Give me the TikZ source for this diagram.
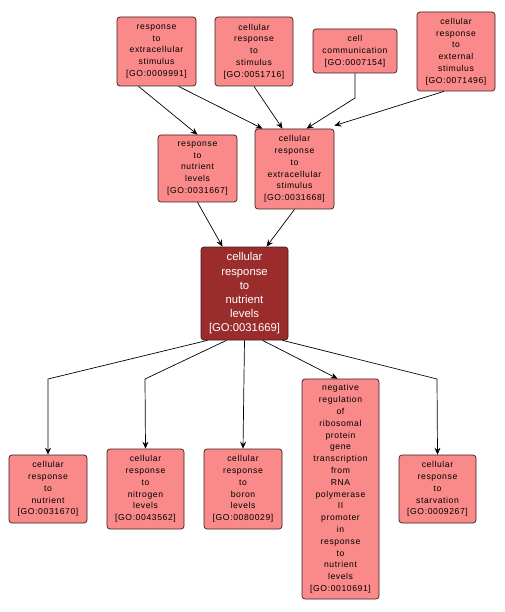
\documentclass[tikz,border=0pt]{standalone}
\usepackage{fontspec}
\setmainfont{Liberation Sans}
\newfontfamily\smallfnt[LetterSpace=7]{Liberation Sans}
\usetikzlibrary{arrows.meta}
\definecolor{salmon}{RGB}{250,137,137}
\definecolor{maincol}{RGB}{155,44,44}
\definecolor{edgecol}{RGB}{60,30,30}
\tikzset{
  gobox/.style={draw=edgecol, fill=salmon, rounded corners=3pt, align=center,
    inner sep=0pt, line width=0.7pt,
    font=\smallfnt\fontsize{8.6}{11.8}\selectfont},
  mainbox/.style={gobox, fill=maincol, text=white, font=\fontsize{11.3}{14.2}\selectfont},
  conn/.style={draw=black, line width=0.7pt, -{Stealth[length=7pt,width=6pt,inset=2.5pt]}}
}
\begin{document}
\begin{tikzpicture}[x=1pt,y=-1pt]
\useasboundingbox (0,0) rectangle (505,612);
\fill[white] (0,0) rectangle (505,612);
% top row
\node[gobox, minimum width=79pt, minimum height=69pt] (A) at (156.5,51.5) {response\\to\\extracellular\\stimulus\\{}[GO:0009991]};
\node[gobox, minimum width=78pt, minimum height=69pt] (B) at (254,51.5) {cellular\\response\\to\\stimulus\\{}[GO:0051716]};
\node[gobox, minimum width=84pt, minimum height=44pt] (C) at (355,51) {cell\\communication\\{}[GO:0007154]};
\node[gobox, minimum width=78pt, minimum height=79pt] (D) at (456,51.5) {cellular\\response\\to\\external\\stimulus\\{}[GO:0071496]};
% middle
\node[gobox, minimum width=79pt, minimum height=67pt] (E) at (197.5,168.5) {response\\to\\nutrient\\levels\\{}[GO:0031667]};
\node[gobox, minimum width=79pt, minimum height=80pt] (F) at (294.5,169) {cellular\\response\\to\\extracellular\\stimulus\\{}[GO:0031668]};
\node[mainbox, minimum width=87pt, minimum height=93pt] (G) at (244.5,293.5) {cellular\\response\\to\\nutrient\\levels\\{}[GO:0031669]};
% bottom
\node[gobox, minimum width=78pt, minimum height=68pt] (H) at (48,489) {cellular\\response\\to\\nutrient\\{}[GO:0031670]};
\node[gobox, minimum width=77pt, minimum height=80pt] (I) at (145.5,489) {cellular\\response\\to\\nitrogen\\levels\\{}[GO:0043562]};
\node[gobox, minimum width=78pt, minimum height=80pt] (J) at (243,489) {cellular\\response\\to\\boron\\levels\\{}[GO:0080029]};
\node[gobox, minimum width=77pt, minimum height=220pt] (K) at (340.5,489) {negative\\regulation\\of\\ribosomal\\protein\\gene\\transcription\\from\\RNA\\polymerase\\II\\promoter\\in\\response\\to\\nutrient\\levels\\{}[GO:0010691]};
\node[gobox, minimum width=77pt, minimum height=68pt] (L) at (437.5,489) {cellular\\response\\to\\starvation\\{}[GO:0009267]};
% bend points
\coordinate (cC) at (355,98);
\coordinate (bH) at (48,379);
\coordinate (bI) at (145,379);
\coordinate (bL) at (437,379);
% top edges
\draw[conn] ([xshift=-18pt]A.south) -- (E.north);
\draw[conn] ([xshift=22pt]A.south) -- ([xshift=-32pt]F.north);
\draw[conn] (B.south) -- ([xshift=-12pt]F.north);
\draw[conn] (C.south) -- (cC) -- ([xshift=12pt]F.north);
\draw[conn] ([xshift=-12pt]D.south) -- ([yshift=3pt]F.north east);
\draw[conn] (E.south) -- ([xshift=-22pt]G.north);
\draw[conn] (F.south) -- ([xshift=22pt]G.north);
% bottom edges
\draw[conn] ([xshift=-37pt]G.south) -- (bH) -- (H.north);
\draw[conn] ([xshift=-18pt]G.south) -- (bI) -- (I.north);
\draw[conn] (G.south) -- (J.north);
\draw[conn] ([xshift=18pt]G.south) -- ([xshift=-3pt]K.north);
\draw[conn] ([xshift=38pt]G.south) -- (bL) -- (L.north);
\end{tikzpicture}
\end{document}
